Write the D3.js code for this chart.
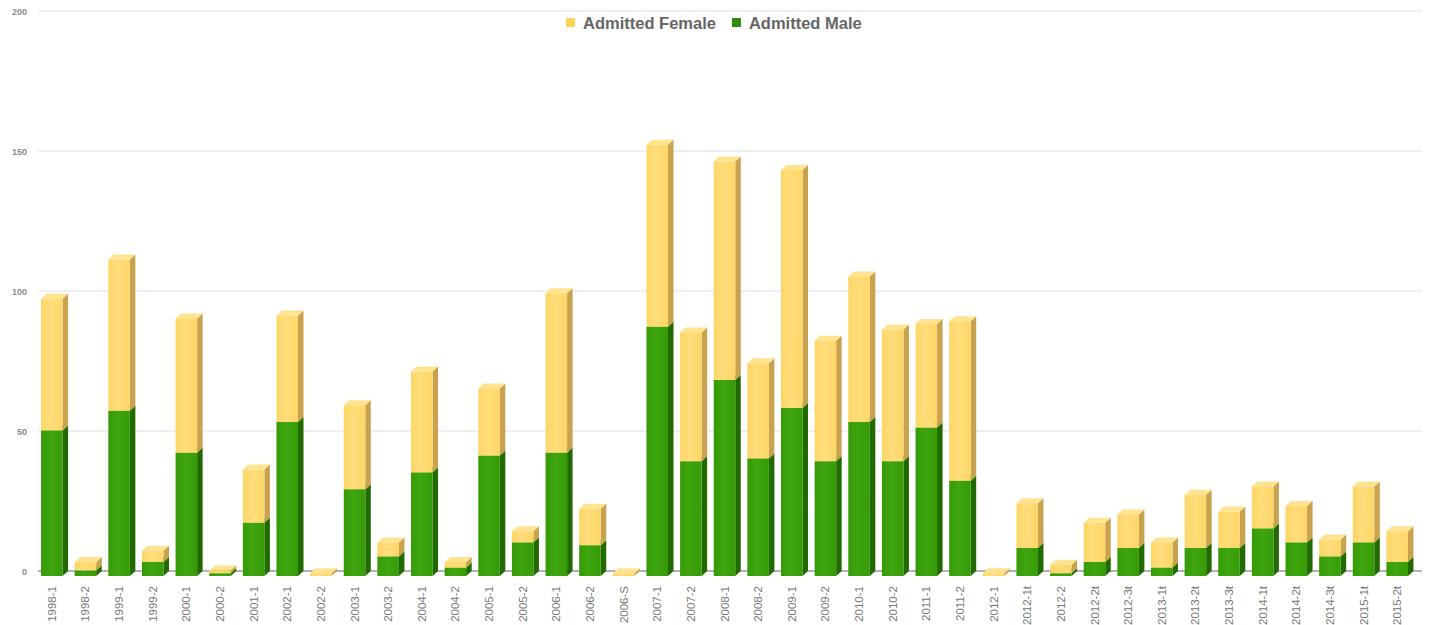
<!DOCTYPE html>
<meta charset="utf-8">
<script src="https://d3js.org/d3.v7.min.js"></script>
<html>
<head>
  <title>Admitted students</title>
  <style>
    body { margin: 0; background: #fff; }
    svg text { font-family: "Liberation Sans", Arial, sans-serif; }
  </style>
</head>
<body>
  <div id="my_dataviz"></div>
</body>
</html>

<script>
  // terms on the x axis
  var terms = ["1998-1", "1998-2", "1999-1", "1999-2", "2000-1", "2000-2", "2001-1", "2002-1",
    "2002-2", "2003-1", "2003-2", "2004-1", "2004-2", "2005-1", "2005-2", "2006-1", "2006-2",
    "2006-S", "2007-1", "2007-2", "2008-1", "2008-2", "2009-1", "2009-2", "2010-1", "2010-2",
    "2011-1", "2011-2", "2012-1", "2012-1t", "2012-2", "2012-2t", "2012-3t", "2013-1t", "2013-2t",
    "2013-3t", "2014-1t", "2014-2t", "2014-3t", "2015-1t", "2015-2t"];

  // admitted counts
  var admittedMale = [52, 2, 59, 5, 44, 1, 19, 55, 0, 31, 7, 37, 3, 43, 12, 44, 11, 0, 89, 41,
    70, 42, 60, 41, 55, 41, 53, 34, 0, 10, 1, 5, 10, 3, 10, 10, 17, 12, 7, 12, 5];
  var admittedFemale = [47, 3, 54, 4, 48, 1, 19, 38, 1, 30, 5, 36, 2, 24, 4, 57, 13, 1, 65, 46,
    78, 34, 85, 43, 52, 47, 37, 57, 1, 16, 3, 14, 12, 9, 19, 13, 15, 13, 6, 20, 11];

  var yTicks = [0, 50, 100, 150, 200];
  var seriesNames = ["Admitted Female", "Admitted Male"];

  var width = 1429, height = 625;
  var depthX = 5.5, depthY = 5;   // the fake 3d offset

  var svg = d3.select("#my_dataviz")
    .append("svg")
      .attr("width", width)
      .attr("height", height);

  var x = d3.scaleBand()
    .domain(terms)
    .range([35, 1414])
    .paddingInner(0.36)
    .paddingOuter(0.18);

  // front plane of the bars
  var y = d3.scaleLinear()
    .domain([0, 200])
    .range([576, 16]);

  // gridlines sit on the back plane
  var grid = svg.append("g")
    .attr("transform", "translate(0," + (-depthY) + ")");
  grid.selectAll("line")
    .data(yTicks)
    .enter()
    .append("line")
      .attr("x1", 38)
      .attr("x2", 1422)
      .attr("y1", function(d) { return y(d); })
      .attr("y2", function(d) { return y(d); })
      .style("stroke", function(d) { return d === 0 ? "#9a9a9a" : "#e2e2e2"; })
      .style("stroke-width", function(d) { return d === 0 ? 1.5 : 1; });

  // y axis labels
  svg.append("g")
    .attr("transform", "translate(27," + (-depthY + 1) + ")")
    .call(d3.axisLeft(y).tickValues(yTicks).tickSize(0).tickPadding(0))
    .call(function(g) { g.select(".domain").remove(); })
    .selectAll("text")
      .style("font-size", "9px")
      .style("font-family", "'Liberation Sans', Arial, sans-serif")
      .style("font-weight", "bold")
      .style("fill", "#8a8a8a");

  // x axis labels, rotated
  svg.append("g")
    .attr("transform", "translate(0,583)")
    .call(d3.axisBottom(x).tickSize(0).tickPadding(0))
    .call(function(g) { g.select(".domain").remove(); })
    .selectAll("text")
      .attr("transform", "rotate(-90)")
      .attr("x", -3)
      .attr("y", 0)
      .attr("dy", "0.35em")
      .style("text-anchor", "end")
      .style("font-size", "11.5px")
      .style("font-family", "'Liberation Sans', Arial, sans-serif")
      .style("fill", "#777");

  // colours: front, side, top
  var colors = {
    "Admitted Male":   {front: "#359a06", side: "#206a00", top: "#4aad1c", light: "#3fa60f"},
    "Admitted Female": {front: "#fed667", side: "#c9a24f", top: "#ffe38f", light: "#ffdd7a"}
  };

  var defs = svg.append("defs");
  seriesNames.forEach(function(name, i) {
    var grad = defs.append("linearGradient")
      .attr("id", "grad" + i)
      .attr("x1", "0%").attr("x2", "100%").attr("y1", "0%").attr("y2", "0%");
    grad.append("stop").attr("offset", "0%").attr("stop-color", colors[name].front);
    grad.append("stop").attr("offset", "45%").attr("stop-color", colors[name].light);
    grad.append("stop").attr("offset", "100%").attr("stop-color", colors[name].front);
  });

  // stacked data, male at the bottom
  var rows = terms.map(function(t, i) {
    return {term: t, "Admitted Male": admittedMale[i], "Admitted Female": admittedFemale[i]};
  });
  var stacked = d3.stack().keys(["Admitted Male", "Admitted Female"])(rows);

  var bw = x.bandwidth();

  stacked.forEach(function(layer) {
    var name = layer.key;
    var c = colors[name];
    var gi = seriesNames.indexOf(name);
    var g = svg.append("g").attr("class", "layer");

    var segs = g.selectAll("g")
      .data(layer.filter(function(d) { return d[1] > d[0]; }))
      .enter()
      .append("g");

    // side face
    segs.append("path")
      .attr("d", function(d) {
        var x0 = x(d.data.term) + bw, yt = y(d[1]), yb = y(d[0]);
        return "M" + x0 + "," + yt + "L" + (x0 + depthX) + "," + (yt - depthY) +
               "L" + (x0 + depthX) + "," + (yb - depthY) + "L" + x0 + "," + yb + "Z";
      })
      .style("fill", c.side);

    // top face
    segs.append("path")
      .attr("d", function(d) {
        var x0 = x(d.data.term), yt = y(d[1]);
        return "M" + x0 + "," + yt + "L" + (x0 + depthX) + "," + (yt - depthY) +
               "L" + (x0 + bw + depthX) + "," + (yt - depthY) + "L" + (x0 + bw) + "," + yt + "Z";
      })
      .style("fill", c.top);

    // front face
    segs.append("rect")
      .attr("x", function(d) { return x(d.data.term); })
      .attr("y", function(d) { return y(d[1]); })
      .attr("width", bw)
      .attr("height", function(d) { return y(d[0]) - y(d[1]); })
      .style("fill", "url(#grad" + gi + ")");
  });

  // legend
  var legend = svg.append("g").attr("transform", "translate(566,23)");
  var lx = 0;
  seriesNames.forEach(function(name) {
    legend.append("rect")
      .attr("x", lx)
      .attr("y", -5)
      .attr("width", 9)
      .attr("height", 9)
      .style("fill", name === "Admitted Male" ? "#2e8c06" : "#fdd257");
    var t = legend.append("text")
      .attr("x", lx + 17)
      .attr("y", 0)
      .attr("dy", "0.35em")
      .style("font-size", "16.5px")
      .style("font-weight", "bold")
      .style("fill", "#666")
      .text(name);
    lx += 17 + t.node().getComputedTextLength() + 16;
  });
</script>
